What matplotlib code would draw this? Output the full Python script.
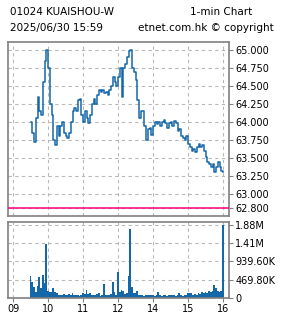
import numpy as np
import matplotlib.pyplot as plt

# 3-minute samples from 09:30, lunch break removed (12:00 and 13:00 share one slot)
price = [64.0, 63.85, 63.72, 64.05, 64.35, 64.15, 64.1, 64.55, 64.85, 65.0,
         64.75, 64.25, 64.1, 63.75, 63.68, 63.95, 63.8, 63.95, 64.0, 63.85,
         63.8, 63.78, 63.85, 64.0, 64.15, 64.2, 64.15, 64.3, 64.32, 64.1,
         64.0, 64.15, 64.05, 63.98, 64.1, 64.25, 64.32, 64.25, 64.38, 64.45,
         64.42, 64.45, 64.4, 64.42, 64.38, 64.45, 64.5, 64.62, 64.55, 64.5,
         64.62, 64.75, 64.35, 64.75, 64.8, 64.9, 64.98, 65.0, 64.75, 64.7,
         64.58, 64.3, 64.05, 64.15, 64.15, 63.95, 63.75, 63.9, 63.92, 63.82,
         63.95, 64.0, 63.97, 64.0, 63.95, 64.0, 64.03, 63.98, 63.92, 63.98,
         64.0, 63.95, 64.02, 63.98, 63.87, 63.9, 63.8, 63.78, 63.75, 63.8,
         63.7, 63.65, 63.6, 63.62, 63.58, 63.65, 63.7, 63.65, 63.68, 63.6,
         63.52, 63.45, 63.42, 63.38, 63.42, 63.3, 63.38, 63.45, 63.38, 63.32,
         63.3]

volume_k = [565, 420, 290, 160, 300, 545, 260, 590, 385, 1390,
            170, 160, 150, 260, 150, 120, 90, 75, 80, 110,
            70, 75, 100, 80, 120, 75, 90, 70, 60, 80,
            130, 100, 200, 110, 120, 90, 70, 80, 110, 120,
            60, 70, 360, 90, 70, 80, 110, 420, 150, 90,
            670, 160, 210, 190, 110, 140, 565, 1770, 280, 130,
            120, 180, 90, 70, 80, 60, 90, 70, 80, 70,
            90, 60, 80, 160, 70, 60, 80, 70, 60, 80,
            70, 90, 70, 60, 80, 130, 70, 60, 80, 70,
            130, 140, 120, 90, 100, 80, 140, 110, 150, 120,
            160, 130, 170, 150, 190, 340, 260, 170, 150, 180,
            1880]

price_ticks = [62.8, 63.0, 63.25, 63.5, 63.75, 64.0, 64.25, 64.5, 64.75, 65.0]
vol_ticks = [0, 469800, 939600, 1409400, 1879200]
vol_labels = ['0', '469.80K', '939.60K', '1.41M', '1.88M']
hour_labels = ['09', '10', '11', '12', '14', '15', '16']
ref_price = 62.8

blue = '#1467a8'
fs = 7

t = 0.5 + np.arange(len(price)) * 3 / 60.0
vol = np.array(volume_k) * 1000

fig = plt.figure(figsize=(2.85, 3.18), dpi=100)
ax1 = fig.add_axes([8 / 285, 1 - 216 / 318, 221 / 285, 174 / 318])
ax2 = fig.add_axes([8 / 285, 1 - 298 / 318, 221 / 285, 76 / 318])

ax1.plot(t, price, color=blue, lw=1.1, drawstyle='steps-post')
ax1.axhline(ref_price, color='#ff0080', lw=1.1, zorder=3)
ax1.set_ylim(62.694, 65.111)
ax1.set_yticks(price_ticks)
ax1.set_yticklabels(['%.3f' % p for p in price_ticks])

ax2.bar(t, vol, width=0.045, color=blue, linewidth=0)
ax2.set_ylim(0, 1.956e6)
ax2.set_yticks(vol_ticks)
ax2.set_yticklabels(vol_labels)

for ax in (ax1, ax2):
    ax.set_xlim(-0.143, 6.171)
    ax.set_xticks(range(7))
    ax.grid(True, color='#b8b8b8', ls=(0, (3, 3)), lw=0.8)
    ax.set_axisbelow(True)
    ax.yaxis.tick_right()
    ax.tick_params(axis='y', labelsize=fs, length=3, pad=1.5, color='#808080')
    ax.tick_params(axis='x', labelsize=fs, length=3, pad=1.5, color='#808080')
    for s in ax.spines.values():
        s.set_color('#808080')
        s.set_linewidth(1.2)

ax1.set_xticklabels([])
ax1.tick_params(axis='x', length=0)
ax2.set_xticklabels(hour_labels)

fig.text(10 / 285, 1 - 12 / 318, '01024 KUAISHOU-W', fontsize=7.5, va='center')
fig.text(190 / 285, 1 - 12 / 318, '1-min Chart', fontsize=7.5, va='center')
fig.text(10 / 285, 1 - 28 / 318, '2025/06/30 15:59', fontsize=7.5, va='center')
fig.text(138 / 285, 1 - 28 / 318, 'etnet.com.hk \u00a9 copyright', fontsize=7.5, va='center')

fig.savefig('out.png', dpi=100)
